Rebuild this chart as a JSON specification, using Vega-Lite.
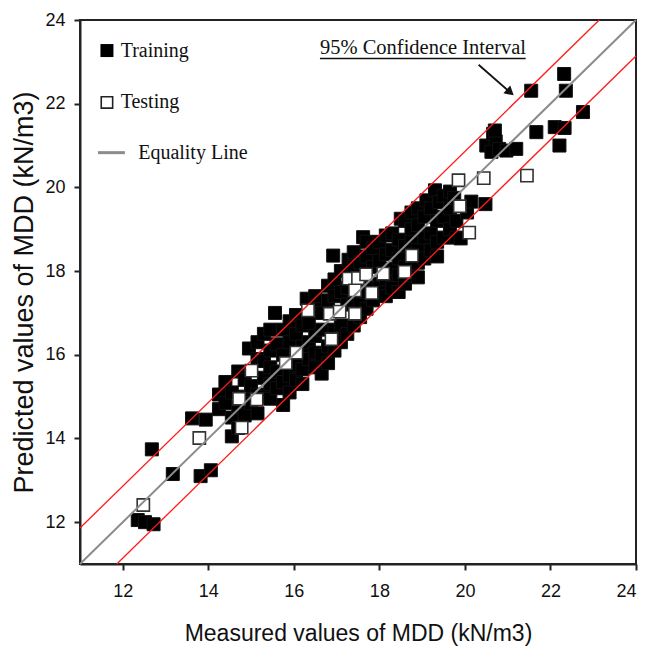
{
  "$schema": "https://vega.github.io/schema/vega-lite/v6.json",
  "autosize": {"type": "none"},
  "width": 556,
  "height": 544,
  "padding": {"left": 80, "top": 20, "right": 11, "bottom": 87},
  "background": "white",
  "config": {
    "view": {"stroke": "#222", "strokeWidth": 2},
    "axis": {
      "labelFont": "Liberation Sans", "labelFontSize": 18, "labelColor": "#111",
      "titleFont": "Liberation Sans", "titleFontWeight": "normal", "titleColor": "#111",
      "domainColor": "#222", "domainWidth": 2, "tickColor": "#222", "tickWidth": 2, "tickSize": 6,
      "grid": false
    }
  },
  "datasets": {
    "train": [
      {"m":12.35,"p":12.05},{"m":12.52,"p":12.0},{"m":12.72,"p":11.95},{"m":12.68,"p":13.74},
      {"m":13.17,"p":13.15},{"m":13.62,"p":14.48},{"m":13.94,"p":14.45},{"m":13.82,"p":13.1},{"m":14.06,"p":13.24},
      {"m":14.25,"p":14.7},{"m":14.25,"p":15.05},
      {"m":14.4,"p":14.85},{"m":14.4,"p":15.35},
      {"m":14.55,"p":14.05},{"m":14.55,"p":14.5},{"m":14.55,"p":15.1},
      {"m":14.7,"p":14.25},{"m":14.7,"p":14.75},{"m":14.7,"p":15.6},
      {"m":14.85,"p":14.55},{"m":14.85,"p":15.0},{"m":14.85,"p":15.4},
      {"m":14.95,"p":16.15},
      {"m":15.0,"p":14.85},{"m":15.0,"p":15.25},
      {"m":15.15,"p":14.6},{"m":15.15,"p":15.05},{"m":15.15,"p":15.9},{"m":15.15,"p":16.3},
      {"m":15.3,"p":15.0},{"m":15.3,"p":15.45},{"m":15.3,"p":15.85},{"m":15.3,"p":16.5},
      {"m":15.45,"p":14.95},{"m":15.45,"p":15.3},{"m":15.45,"p":15.7},{"m":15.45,"p":16.1},{"m":15.45,"p":16.6},
      {"m":15.6,"p":15.2},{"m":15.6,"p":15.6},{"m":15.6,"p":16.25},{"m":15.56,"p":17.0},
      {"m":15.75,"p":14.8},{"m":15.75,"p":15.35},{"m":15.75,"p":16.0},{"m":15.75,"p":16.6},
      {"m":15.9,"p":15.1},{"m":15.9,"p":15.5},{"m":15.9,"p":16.3},{"m":15.9,"p":16.8},
      {"m":16.05,"p":15.4},{"m":16.05,"p":15.75},{"m":16.05,"p":16.5},{"m":16.05,"p":16.95},
      {"m":16.2,"p":15.3},{"m":16.2,"p":15.65},{"m":16.2,"p":16.2},{"m":16.2,"p":16.7},{"m":16.3,"p":17.34},
      {"m":16.35,"p":15.9},{"m":16.35,"p":16.3},{"m":16.35,"p":16.75},
      {"m":16.5,"p":15.7},{"m":16.5,"p":16.05},{"m":16.5,"p":16.45},{"m":16.5,"p":17.1},{"m":16.5,"p":17.4},
      {"m":16.65,"p":15.55},{"m":16.65,"p":16.0},{"m":16.65,"p":16.6},{"m":16.65,"p":17.0},
      {"m":16.8,"p":15.8},{"m":16.8,"p":16.2},{"m":16.8,"p":17.3},{"m":16.8,"p":17.65},
      {"m":16.92,"p":18.37},
      {"m":16.95,"p":16.1},{"m":16.95,"p":16.6},{"m":16.95,"p":17.4},{"m":16.95,"p":17.8},
      {"m":17.1,"p":16.3},{"m":17.1,"p":16.7},{"m":17.1,"p":17.5},{"m":17.1,"p":18.0},
      {"m":17.25,"p":16.5},{"m":17.25,"p":17.2},{"m":17.25,"p":17.6},{"m":17.28,"p":18.27},
      {"m":17.4,"p":16.7},{"m":17.4,"p":17.3},{"m":17.4,"p":18.1},{"m":17.4,"p":18.45},
      {"m":17.55,"p":16.9},{"m":17.55,"p":17.2},{"m":17.55,"p":17.6},{"m":17.55,"p":18.2},
      {"m":17.62,"p":18.81},
      {"m":17.7,"p":17.1},{"m":17.7,"p":17.5},{"m":17.7,"p":18.35},{"m":17.7,"p":18.7},
      {"m":17.85,"p":17.3},{"m":17.85,"p":17.7},{"m":17.85,"p":18.1},{"m":17.85,"p":18.55},
      {"m":18.0,"p":17.6},{"m":18.0,"p":18.25},{"m":18.0,"p":18.7},
      {"m":18.15,"p":17.4},{"m":18.15,"p":17.8},{"m":18.15,"p":18.4},{"m":18.15,"p":18.85},
      {"m":18.3,"p":17.6},{"m":18.3,"p":18.05},{"m":18.3,"p":18.5},{"m":18.3,"p":18.9},
      {"m":18.45,"p":17.5},{"m":18.45,"p":17.9},{"m":18.45,"p":18.3},{"m":18.45,"p":18.75},{"m":18.5,"p":19.25},
      {"m":18.6,"p":17.7},{"m":18.6,"p":18.1},{"m":18.6,"p":18.6},{"m":18.6,"p":19.2},
      {"m":18.75,"p":17.9},{"m":18.75,"p":18.7},{"m":18.75,"p":19.0},{"m":18.75,"p":19.4},
      {"m":18.9,"p":17.85},{"m":18.9,"p":18.2},{"m":18.9,"p":18.5},{"m":18.9,"p":19.1},{"m":18.9,"p":19.5},
      {"m":19.05,"p":18.3},{"m":19.05,"p":18.8},{"m":19.05,"p":19.3},{"m":19.1,"p":19.69},
      {"m":19.2,"p":18.5},{"m":19.2,"p":18.9},{"m":19.2,"p":19.5},{"m":19.3,"p":19.93},
      {"m":19.35,"p":18.35},{"m":19.35,"p":18.7},{"m":19.35,"p":19.2},{"m":19.4,"p":19.65},
      {"m":19.5,"p":18.8},{"m":19.5,"p":19.3},{"m":19.5,"p":19.8},
      {"m":19.65,"p":19.0},{"m":19.65,"p":19.5},{"m":19.65,"p":19.9},
      {"m":19.8,"p":18.8},{"m":19.8,"p":19.2},{"m":19.75,"p":19.75},
      {"m":19.9,"p":18.78},{"m":20.05,"p":19.4},{"m":20.15,"p":19.66},{"m":20.48,"p":19.6},
      {"m":20.5,"p":21.0},{"m":20.66,"p":21.28},{"m":20.72,"p":21.1},{"m":20.62,"p":20.85},{"m":20.7,"p":21.36},
      {"m":20.8,"p":20.92},{"m":20.97,"p":20.88},{"m":21.2,"p":20.92},
      {"m":21.55,"p":22.31},{"m":22.32,"p":22.71},{"m":22.36,"p":22.31},{"m":22.76,"p":21.8},
      {"m":21.67,"p":21.32},{"m":22.1,"p":21.44},{"m":22.33,"p":21.42},{"m":22.21,"p":21.0}
    ],
    "test": [
      {"m":12.48,"p":12.41},{"m":13.79,"p":14.01},{"m":14.78,"p":14.26},{"m":15.13,"p":14.93},
      {"m":14.72,"p":14.95},{"m":15.01,"p":15.62},{"m":15.81,"p":15.8},{"m":16.06,"p":16.05},
      {"m":16.33,"p":17.06},{"m":16.88,"p":16.37},{"m":16.84,"p":16.98},{"m":17.07,"p":17.03},
      {"m":17.43,"p":16.98},{"m":17.28,"p":17.82},{"m":17.43,"p":17.54},{"m":17.5,"p":17.83},
      {"m":17.69,"p":17.92},{"m":17.82,"p":17.48},{"m":18.09,"p":17.94},{"m":18.59,"p":17.98},
      {"m":18.76,"p":18.37},{"m":19.85,"p":20.17},{"m":19.88,"p":19.55},{"m":20.1,"p":18.92},
      {"m":20.44,"p":20.22},{"m":21.45,"p":20.28}
    ],
    "lines": [
      {"s":"eq","m":11,"p":11},{"s":"eq","m":24,"p":24},
      {"s":"up","m":11,"p":11.86},{"s":"up","m":23.14,"p":24},
      {"s":"lo","m":11.86,"p":11},{"s":"lo","m":24,"p":23.14}
    ]
  },
  "encoding": {
    "x": {"field": "m", "type": "quantitative",
      "scale": {"domain": [11, 24], "nice": false, "zero": false},
      "axis": {"values": [12,14,16,18,20,22,24], "title": "Measured values of MDD (kN/m3)", "titleFontSize": 23, "labelPadding": 12, "titlePadding": 22}},
    "y": {"field": "p", "type": "quantitative",
      "scale": {"domain": [11, 24], "nice": false, "zero": false},
      "axis": {"values": [12,14,16,18,20,22,24], "title": "Predicted values of MDD (kN/m3)", "titleFontSize": 27, "labelPadding": 9, "titlePadding": 6}}
  },
  "layer": [
    {"data": {"name": "train"}, "mark": {"type": "point", "shape": "square", "filled": true, "size": 169, "color": "black", "stroke": "#111", "strokeWidth": 1, "opacity": 1}},
    {"data": {"name": "test"}, "mark": {"type": "point", "shape": "square", "filled": true, "size": 150, "fill": "white", "stroke": "#333", "strokeWidth": 1.6, "opacity": 1}},
    {"data": {"name": "lines"}, "transform": [{"filter": "datum.s === 'eq'"}], "mark": {"type": "line", "color": "#8c8c8c", "strokeWidth": 2}, "encoding": {}},
    {"data": {"name": "lines"}, "transform": [{"filter": "datum.s !== 'eq'"}], "mark": {"type": "line", "color": "#ff1a1a", "strokeWidth": 1.3}, "encoding": {"detail": {"field": "s"}}},
    {"data": {"values": [{"m": 11.63, "p": 23.27}]}, "mark": {"type": "point", "shape": "square", "filled": true, "size": 169, "color": "black", "opacity": 1}},
    {"data": {"values": [{"m": 11.63, "p": 22.03}]}, "mark": {"type": "point", "shape": "square", "filled": true, "size": 130, "fill": "white", "stroke": "#222", "strokeWidth": 1.6, "opacity": 1}},
    {"data": {"values": [{"m": 11.42, "p": 20.83}, {"m": 12.05, "p": 20.83}]}, "mark": {"type": "line", "color": "#8c8c8c", "strokeWidth": 3}, "encoding": {}},
    {"data": {"values": [{"label": "Training", "m": 11.95, "p": 23.27}, {"label": "Testing", "m": 11.95, "p": 22.03}, {"label": "Equality Line", "m": 12.36, "p": 20.83}]},
      "mark": {"type": "text", "font": "Liberation Serif", "fontSize": 20, "align": "left", "baseline": "middle", "color": "#111"},
      "encoding": {"text": {"field": "label"}}},
    {"data": {"values": [{"label": "95% Confidence Interval", "m": 16.61, "p": 23.33}]},
      "mark": {"type": "text", "font": "Liberation Serif", "fontSize": 20.5, "align": "left", "baseline": "middle", "color": "#111"},
      "encoding": {"text": {"field": "label"}}},
    {"data": {"values": [{"m": 16.61, "m2": 21.42, "p": 23.08}]}, "mark": {"type": "rule", "color": "#111", "strokeWidth": 1.5},
      "encoding": {"x2": {"field": "m2"}}},
    {"data": {"values": [{"m": 20.32, "p": 22.93, "m2": 21.05, "p2": 22.28}]}, "mark": {"type": "rule", "color": "#111", "strokeWidth": 1.8},
      "encoding": {"x2": {"field": "m2"}, "y2": {"field": "p2"}}},
    {"data": {"values": [{"m": 21.06, "p": 22.27}]}, "mark": {"type": "point", "shape": "triangle-right", "filled": true, "size": 110, "color": "#111", "angle": 41, "opacity": 1}}
  ]
}
